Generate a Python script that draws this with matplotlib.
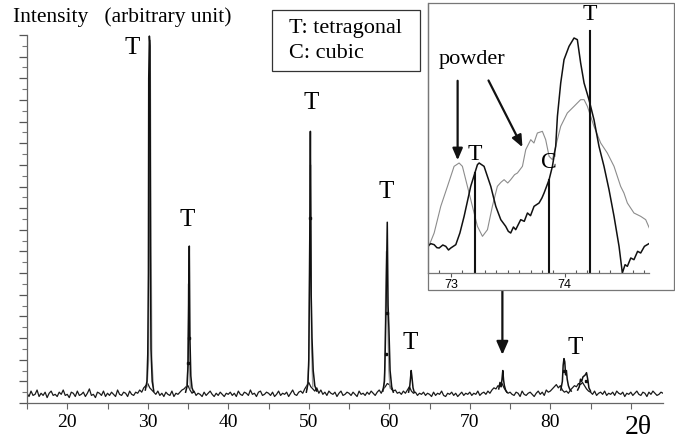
import matplotlib
matplotlib.use("Agg")
import matplotlib.pyplot as plt
from matplotlib.patches import Rectangle
import numpy as np

plt.rcParams['font.family'] = ['Liberation Serif', 'DejaVu Serif']

# ---- main pattern: noisy baseline, one value every 0.25 deg from 15 to 94
base_start, base_step = 15.0, 0.25
base_y = [
    0.9, 0.6, 1.1, 0.7, 0.8, 1.2, 0.6, 0.9, 0.7, 1.0, 0.5, 0.9, 1.1, 0.7, 0.8, 0.6, 1.0, 0.8, 1.2, 0.7,
    0.8, 0.5, 1.0, 0.9, 0.6, 1.1, 0.7, 0.8, 1.0, 0.6, 0.9, 1.3, 0.7, 0.8, 0.5, 1.0, 0.9, 0.7, 1.1, 0.6,
    0.9, 0.7, 1.0, 0.8, 0.6, 1.2, 0.8, 0.7, 1.0, 0.9, 0.6, 1.1, 0.8, 0.7, 1.0, 0.9, 1.2, 1.0, 1.4, 1.6,
    1.8, 1.4, 1.2, 1.0, 0.8, 1.1, 0.7, 0.9, 0.6, 1.0, 0.8, 0.7, 1.1, 0.6, 0.9, 0.8, 1.0, 1.2, 1.3, 1.5,
    1.6, 1.2, 0.9, 1.1, 0.7, 0.9, 0.8, 0.6, 1.0, 0.7, 0.9, 1.1, 0.8, 0.6, 0.9, 0.7, 1.0, 0.8, 0.6, 0.9,
    0.8, 1.0, 0.7, 0.9, 0.6, 1.1, 0.8, 0.7, 1.0, 0.9, 0.7, 1.2, 0.8, 0.9, 0.6, 1.0, 1.1, 0.7, 0.8, 1.0,
    0.9, 0.7, 1.0, 0.6, 0.8, 1.1, 0.7, 0.9, 0.8, 1.0, 0.6, 0.9, 1.2, 0.8, 0.7, 1.0, 1.1, 0.9, 1.3, 1.6,
    1.9, 1.5, 1.3, 1.1, 1.4, 0.9, 1.2, 0.8, 1.0, 0.7, 1.1, 0.9, 0.8, 1.0, 0.6, 0.9, 1.1, 0.7, 0.8, 1.0,
    0.9, 0.7, 1.0, 0.8, 0.6, 1.1, 0.8, 0.9, 0.7, 1.0, 0.8, 1.1, 0.9, 0.7, 1.0, 1.2, 0.9, 1.3, 1.5, 1.8,
    1.7, 1.3, 1.1, 1.2, 0.9, 1.0, 0.8, 1.1, 0.9, 1.2, 1.5, 1.1, 0.9, 1.0, 0.7, 0.9, 0.8, 1.0, 0.7, 0.9,
    0.8, 0.6, 1.0, 0.7, 0.9, 0.8, 1.1, 0.7, 0.6, 0.9, 0.8, 1.0, 0.7, 0.9, 0.6, 0.8, 1.0, 0.7, 0.9, 0.8,
    1.0, 0.7, 0.9, 0.8, 1.1, 0.7, 0.9, 1.0, 0.8, 1.1, 0.9, 1.2, 1.4, 1.3, 1.6, 1.5, 1.8, 1.4, 1.1, 0.9,
    1.0, 0.8, 0.7, 1.0, 0.9, 0.6, 1.1, 0.8, 0.7, 0.9, 1.0, 0.8, 0.6, 0.9, 1.1, 0.8, 1.0, 0.7, 1.2, 1.0,
    1.1, 1.3, 1.5, 1.7, 1.4, 1.6, 1.2, 1.0, 1.1, 0.9, 1.2, 1.4, 1.6, 1.5, 1.8, 1.7, 1.9, 1.6, 1.3, 1.1,
    1.0, 0.8, 1.1, 0.7, 0.9, 1.0, 0.8, 1.1, 0.7, 0.9, 0.8, 1.0, 0.7, 1.1, 0.9, 0.8, 1.0, 0.6, 0.9, 0.8,
    1.0, 0.7, 0.9, 1.1, 0.8, 0.7, 1.0, 0.9, 0.6, 1.0, 0.8, 1.1, 0.9, 0.7, 0.8, 1.0, 0.9,
]

# peak profiles (black = sample)
peak_x = {
    30: [29.7, 29.9, 30.0, 30.08, 30.12, 30.2, 30.28, 30.33, 30.4, 30.55, 30.75],
    35: [34.7, 34.9, 35.0, 35.08, 35.16, 35.24, 35.35, 35.5, 35.7],
    50: [49.7, 49.9, 50.0, 50.1, 50.2, 50.3, 50.4, 50.55, 50.75, 51.0],
    60: [59.2, 59.4, 59.5, 59.6, 59.75, 59.85, 59.95, 60.1, 60.3, 60.5],
    63: [62.4, 62.55, 62.65, 62.72, 62.8, 62.95, 63.1],
    74: [73.6, 73.75, 73.9, 74.0, 74.1, 74.2, 74.3, 74.45, 74.6],
    82: [81.3, 81.5, 81.6, 81.7, 81.8, 81.9, 82.0, 82.1, 82.25, 82.4, 82.6],
    84: [83.4, 83.6, 83.75, 83.9, 84.05, 84.2, 84.35, 84.5, 84.65, 84.8, 85.0],
}
peak_y = {
    30: [1.2, 2.0, 4.5, 12.0, 30.0, 33.9, 33.0, 14.0, 5.0, 2.0, 1.1],
    35: [1.0, 1.6, 3.5, 8.0, 14.5, 6.0, 2.5, 1.4, 1.0],
    50: [1.0, 1.8, 4.0, 12.0, 25.1, 10.0, 6.0, 3.0, 1.6, 1.1],
    60: [1.1, 2.0, 5.0, 9.0, 16.7, 9.0, 7.0, 3.0, 1.5, 1.0],
    63: [1.0, 1.6, 2.4, 3.0, 2.5, 1.4, 1.0],
    74: [1.3, 1.9, 1.5, 2.2, 3.0, 2.1, 1.6, 1.2, 1.0],
    82: [1.2, 2.0, 3.5, 4.1, 3.8, 2.6, 3.0, 2.2, 1.6, 1.3, 1.1],
    84: [1.2, 1.5, 2.2, 2.0, 2.4, 2.5, 2.6, 2.8, 2.2, 1.4, 1.1],
}
# grey twin profiles
grey_x = {
    30: [29.9, 30.1, 30.22, 30.3, 30.38, 30.5, 30.7],
    35: [34.8, 34.95, 35.05, 35.15, 35.3],
    50: [49.8, 50.0, 50.12, 50.22, 50.35, 50.5],
    60: [59.3, 59.45, 59.55, 59.65, 59.8, 59.95, 60.1],
}
grey_y = {
    30: [1.5, 4.0, 20.0, 33.5, 20.0, 4.0, 1.5],
    35: [1.3, 3.0, 11.0, 3.5, 1.3],
    50: [1.3, 3.5, 16.0, 22.0, 5.0, 1.5],
    60: [1.3, 3.0, 10.0, 14.0, 8.0, 3.0, 1.4],
}
mark_x = [35.15, 35.05, 50.2, 59.7, 59.6, 81.7, 84.4]
mark_y = [6.0, 3.7, 17.1, 8.3, 4.5, 3.0, 2.0]

t_label_x = [28.1, 34.9, 50.3, 59.6, 62.6, 83.1]
t_label_y = [32.8, 16.9, 27.7, 19.5, 5.5, 5.1]

# ---- inset (73-74.7 deg region)
ins_black_x = [72.795, 72.825, 72.854, 72.878, 72.898, 72.93, 72.956, 72.98, 73.0, 73.044, 73.08, 73.117,
               73.175, 73.234, 73.249, 73.292, 73.351, 73.395, 73.439, 73.482, 73.505, 73.526, 73.55,
               73.570, 73.614, 73.645, 73.673, 73.70, 73.731, 73.775, 73.80, 73.819, 73.863, 73.892,
               73.921, 73.936, 73.965, 73.994, 74.038, 74.082, 74.111, 74.140, 74.170, 74.213, 74.257,
               74.301, 74.345, 74.389, 74.433, 74.477, 74.506, 74.53, 74.550, 74.58, 74.608, 74.64,
               74.667, 74.70, 74.749]
ins_black_y = [8.0, 8.8, 8.5, 7.6, 7.5, 8.4, 8.0, 6.9, 7.5, 8.5, 12.0, 17.0,
               26.0, 32.5, 33.0, 32.0, 26.0, 20.0, 16.0, 14.0, 12.5, 12.0, 13.8,
               13.0, 16.0, 15.5, 18.0, 17.2, 20.0, 21.0, 22.5, 24.0, 28.0, 32.0,
               38.0, 47.0, 57.0, 64.0, 68.0, 70.5, 70.0, 63.0, 57.0, 52.0, 46.0,
               38.0, 32.0, 25.0, 17.0, 8.0, 0.0, 2.5, 2.0, 4.5, 4.0, 6.5,
               6.0, 8.0, 9.0]
ins_grey_x = [72.795, 72.854, 72.912, 72.971, 73.029, 73.073, 73.102, 73.146, 73.190, 73.234, 73.278,
              73.322, 73.365, 73.409, 73.44, 73.468, 73.50, 73.526, 73.56, 73.585, 73.629, 73.658,
              73.702, 73.73, 73.760, 73.804, 73.833, 73.863, 73.892, 73.921, 73.965, 74.023, 74.082,
              74.140, 74.170, 74.199, 74.257, 74.316, 74.374, 74.433, 74.491, 74.520, 74.550, 74.608,
              74.667, 74.711, 74.749]
ins_grey_y = [7.0, 12.0, 20.0, 26.0, 32.0, 33.0, 32.0, 26.0, 20.0, 14.0, 11.0,
              13.0, 20.0, 26.0, 27.2, 28.0, 27.0, 28.0, 29.5, 30.0, 32.0, 37.0,
              40.0, 39.0, 42.0, 42.5, 40.0, 35.0, 34.0, 38.0, 44.0, 48.0, 50.0,
              52.0, 52.0, 50.0, 44.0, 39.0, 36.0, 32.0, 26.0, 24.0, 21.0, 18.0,
              17.0, 16.0, 13.0]
ref_x = [73.21, 73.86, 74.22]
ref_top = [30.0, 28.0, 72.5]
ref_label = ['T', 'C', 'T']
ref_label_y = [35.5, 33.0, 77.5]

fig = plt.figure(figsize=(6.75, 4.41), dpi=100)
W, H = 675.0, 441.0

ax = fig.add_axes([27 / W, 1 - 403 / H, (663 - 27) / W, (403 - 35) / H])
xb = base_start + base_step * np.arange(len(base_y))
ax.plot(xb, base_y, color='#1a1a1a', lw=0.9)
for k in grey_x:
    ax.plot(grey_x[k], grey_y[k], color='#9a9a9a', lw=1.0)
for k in peak_x:
    ax.plot(peak_x[k], peak_y[k], color='#111111', lw=1.1, clip_on=False)
ax.plot(mark_x, mark_y, 's', color='#111111', ms=1.8, lw=0)

for x, y in zip(t_label_x, t_label_y):
    ax.text(x, y, 'T', fontsize=18, ha='center', va='center', clip_on=False)
ax.annotate('', xy=(74.05, 4.2), xytext=(74.05, 11.3),
            arrowprops=dict(arrowstyle='-|>,head_width=0.35,head_length=0.8', color='#111111', lw=1.6))

ax.set_xlim(15, 94)
ax.set_ylim(0, 34)
for s in ['top', 'right']:
    ax.spines[s].set_visible(False)
for s in ['left', 'bottom']:
    ax.spines[s].set_color('#666666')
    ax.spines[s].set_linewidth(0.9)
ax.set_xticks(np.arange(15, 95, 5))
ax.set_xticklabels(['' if t % 10 or t > 80 else str(t) for t in range(15, 95, 5)])
ax.tick_params(axis='x', direction='out', length=4, width=0.8, color='#666666', labelsize=14, pad=4)
ax.set_yticks(np.arange(0, 35, 2))
ax.set_yticks(np.arange(1, 35, 2), minor=True)
ax.tick_params(axis='y', which='major', direction='out', length=6, width=0.9, color='#555555', labelleft=False)
ax.tick_params(axis='y', which='minor', direction='out', length=3.5, width=0.8, color='#777777')

fig.text(13 / W, 1 - 17 / H, 'Intensity   (arbitrary unit)', fontsize=15.5, ha='left', va='center')
fig.text(638 / W, 1 - 428 / H, '2\u03b8', fontsize=20, ha='center', va='center')

# legend box
fig.patches.append(Rectangle((272 / W, 1 - 71 / H), 148 / W, 61 / H, transform=fig.transFigure,
                             facecolor='white', edgecolor='#333333', lw=0.9, zorder=1))
fig.text(289 / W, 1 - 29 / H, 'T: tetragonal', fontsize=16, ha='left', va='center')
fig.text(289 / W, 1 - 54 / H, 'C: cubic', fontsize=16, ha='left', va='center')

# inset box + axes
fig.patches.append(Rectangle((428 / W, 1 - 290 / H), 246 / W, 287 / H, transform=fig.transFigure,
                             facecolor='white', edgecolor='#777777', lw=0.9, zorder=1))
axi = fig.add_axes([428 / W, 1 - 273 / H, (649 - 428) / W, (273 - 3) / H])
axi.set_zorder(3)
axi.patch.set_alpha(0)
axi.plot(ins_grey_x, ins_grey_y, color='#8c8c8c', lw=0.8)
axi.plot(ins_black_x, ins_black_y, color='#111111', lw=1.1)
for x, top, lab, ly in zip(ref_x, ref_top, ref_label, ref_label_y):
    axi.plot([x, x], [0, top], color='#111111', lw=1.5)
    axi.text(x, ly, lab, fontsize=17, ha='center', va='center')
axi.text(73.19, 64, 'powder', fontsize=16, ha='center', va='center')
axi.annotate('', xy=(73.06, 33), xytext=(73.06, 58.5),
             arrowprops=dict(arrowstyle='-|>,head_width=0.3,head_length=0.7', color='#111111', lw=1.6))
axi.annotate('', xy=(73.64, 37), xytext=(73.32, 58.5),
             arrowprops=dict(arrowstyle='-|>,head_width=0.3,head_length=0.7', color='#111111', lw=1.6))
axi.set_xlim(72.8, 74.74)
axi.set_ylim(0, 81)
for s in ['top', 'right']:
    axi.spines[s].set_visible(False)
for s in ['left', 'bottom']:
    axi.spines[s].set_color('#777777')
    axi.spines[s].set_linewidth(0.9)
axi.set_yticks([])
axi.set_xticks([73, 74])
axi.set_xticklabels(['73', '74'], family=['Liberation Sans', 'DejaVu Sans'])
axi.set_xticks(np.arange(72.9, 74.75, 0.1), minor=True)
axi.tick_params(axis='x', which='major', direction='out', length=3, width=0.8, color='#555555', labelsize=9, pad=1)
axi.tick_params(axis='x', which='minor', direction='in', length=2, width=0.8, color='#555555')

fig.savefig('out.png', dpi=100)
